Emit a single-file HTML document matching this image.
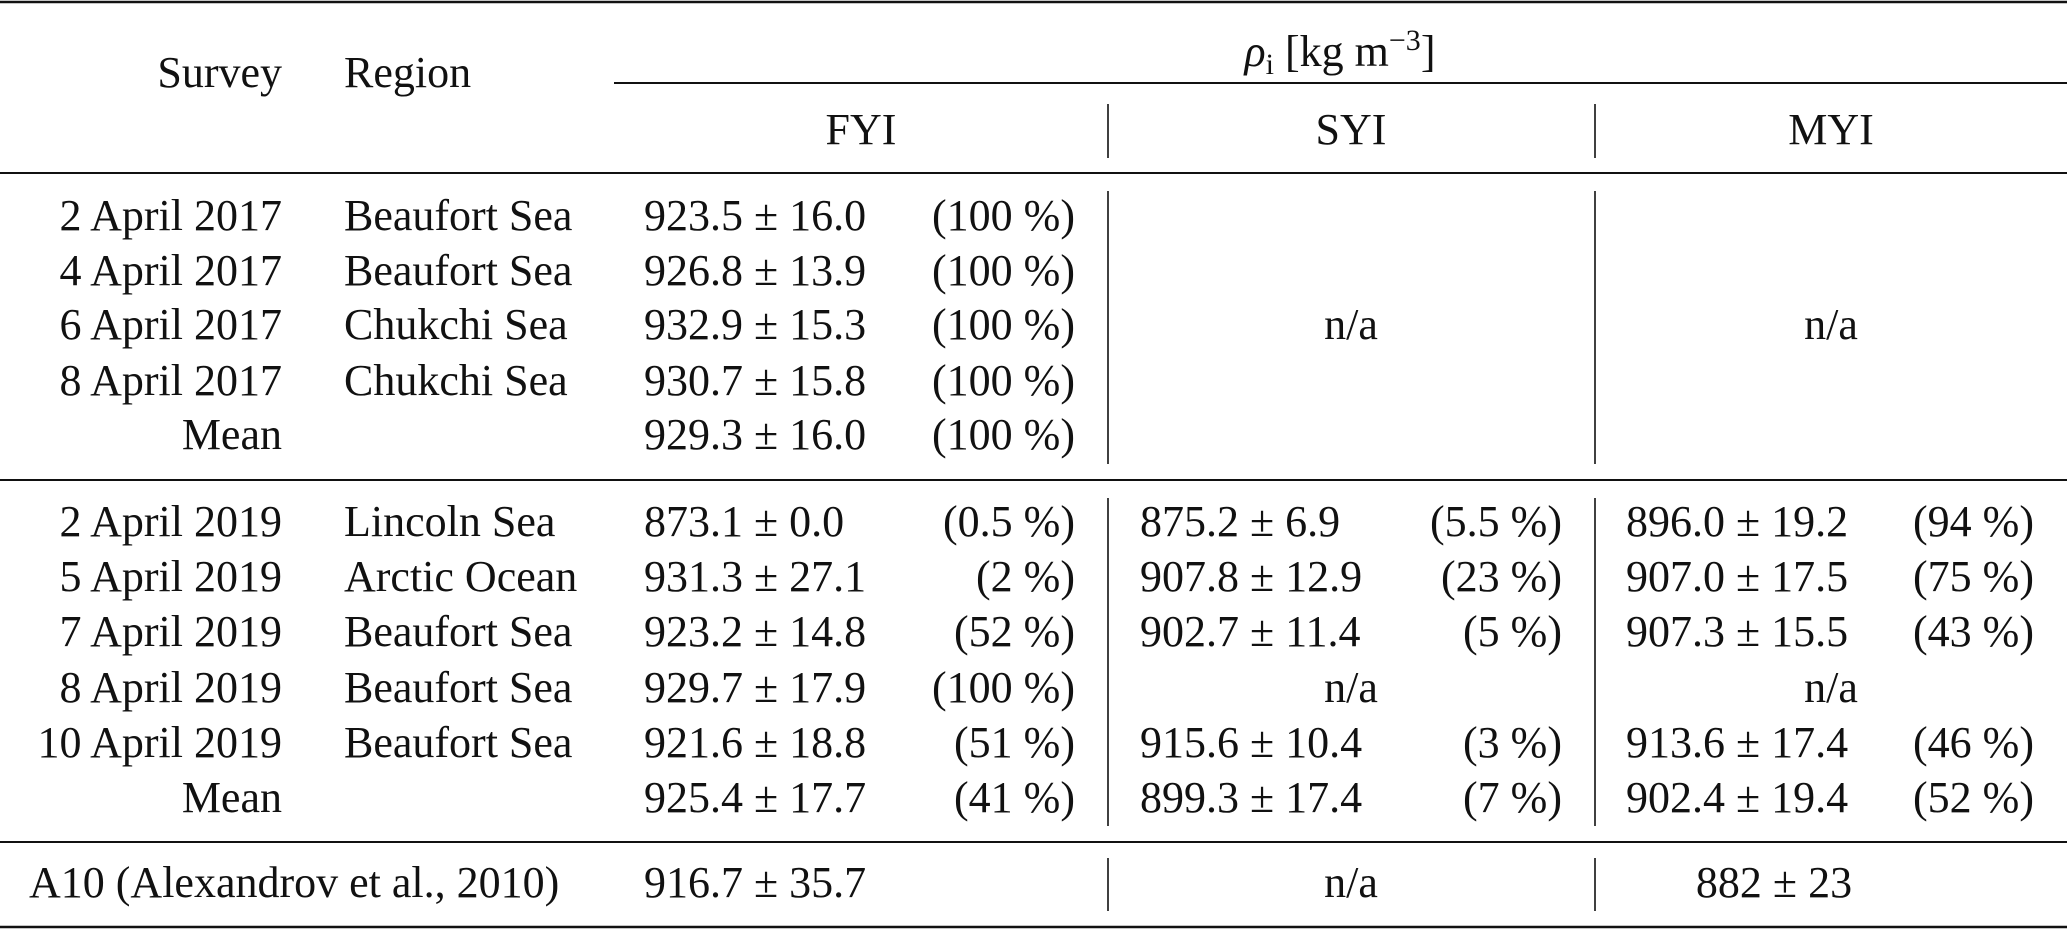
<!DOCTYPE html>
<html><head><meta charset="utf-8"><style>
html,body{margin:0;padding:0;background:#fff;}
svg text{font-family:"Liberation Serif","DejaVu Serif",serif;font-size:44px;fill:#111;}
</style></head><body>
<svg width="2067" height="930" xmlns="http://www.w3.org/2000/svg">
<g stroke="#111">
<line x1="0" y1="2" x2="2067" y2="2" stroke-width="2.5"/>
<line x1="614" y1="83" x2="2067" y2="83" stroke-width="2"/>
<line x1="0" y1="173" x2="2067" y2="173" stroke-width="2"/>
<line x1="0" y1="480" x2="2067" y2="480" stroke-width="2"/>
<line x1="0" y1="842" x2="2067" y2="842" stroke-width="2"/>
<line x1="0" y1="927" x2="2067" y2="927" stroke-width="2.5"/>
<g stroke-width="1.6">
<line x1="1108" y1="104" x2="1108" y2="158"/><line x1="1595" y1="104" x2="1595" y2="158"/>
<line x1="1108" y1="191" x2="1108" y2="464"/><line x1="1595" y1="191" x2="1595" y2="464"/>
<line x1="1108" y1="498" x2="1108" y2="826"/><line x1="1595" y1="498" x2="1595" y2="826"/>
<line x1="1108" y1="858" x2="1108" y2="911"/><line x1="1595" y1="858" x2="1595" y2="911"/>
</g></g>
<text x="282" y="87" text-anchor="end">Survey</text>
<text x="344" y="87">Region</text>
<text x="1340" y="66" text-anchor="middle"><tspan font-style="italic">ρ</tspan><tspan font-size="30" dy="8">i</tspan><tspan dy="-8"> [kg m</tspan><tspan font-size="30" dy="-16">−3</tspan><tspan dy="16">]</tspan></text>
<text x="861" y="144" text-anchor="middle">FYI</text>
<text x="1351" y="144" text-anchor="middle">SYI</text>
<text x="1831" y="144" text-anchor="middle">MYI</text>

<g id="r17">
<text x="282" y="230" text-anchor="end">2 April 2017</text><text x="344" y="230">Beaufort Sea</text><text x="644" y="230">923.5 ± 16.0</text><text x="1075" y="230" text-anchor="end">(100 %)</text>
<text x="282" y="285" text-anchor="end">4 April 2017</text><text x="344" y="285">Beaufort Sea</text><text x="644" y="285">926.8 ± 13.9</text><text x="1075" y="285" text-anchor="end">(100 %)</text>
<text x="282" y="339" text-anchor="end">6 April 2017</text><text x="344" y="339">Chukchi Sea</text><text x="644" y="339">932.9 ± 15.3</text><text x="1075" y="339" text-anchor="end">(100 %)</text>
<text x="282" y="395" text-anchor="end">8 April 2017</text><text x="344" y="395">Chukchi Sea</text><text x="644" y="395">930.7 ± 15.8</text><text x="1075" y="395" text-anchor="end">(100 %)</text>
<text x="282" y="449" text-anchor="end">Mean</text><text x="644" y="449">929.3 ± 16.0</text><text x="1075" y="449" text-anchor="end">(100 %)</text>
<text x="1351" y="339" text-anchor="middle">n/a</text><text x="1831" y="339" text-anchor="middle">n/a</text>
</g>

<text x="282" y="536" text-anchor="end">2 April 2019</text><text x="344" y="536">Lincoln Sea</text><text x="644" y="536">873.1 ± 0.0</text><text x="1075" y="536" text-anchor="end">(0.5 %)</text>
<text x="1140" y="536">875.2 ± 6.9</text><text x="1562" y="536" text-anchor="end">(5.5 %)</text><text x="1626" y="536">896.0 ± 19.2</text><text x="2034" y="536" text-anchor="end">(94 %)</text>

<text x="282" y="591" text-anchor="end">5 April 2019</text><text x="344" y="591">Arctic Ocean</text><text x="644" y="591">931.3 ± 27.1</text><text x="1075" y="591" text-anchor="end">(2 %)</text>
<text x="1140" y="591">907.8 ± 12.9</text><text x="1562" y="591" text-anchor="end">(23 %)</text><text x="1626" y="591">907.0 ± 17.5</text><text x="2034" y="591" text-anchor="end">(75 %)</text>

<text x="282" y="646" text-anchor="end">7 April 2019</text><text x="344" y="646">Beaufort Sea</text><text x="644" y="646">923.2 ± 14.8</text><text x="1075" y="646" text-anchor="end">(52 %)</text>
<text x="1140" y="646">902.7 ± 11.4</text><text x="1562" y="646" text-anchor="end">(5 %)</text><text x="1626" y="646">907.3 ± 15.5</text><text x="2034" y="646" text-anchor="end">(43 %)</text>

<text x="282" y="702" text-anchor="end">8 April 2019</text><text x="344" y="702">Beaufort Sea</text><text x="644" y="702">929.7 ± 17.9</text><text x="1075" y="702" text-anchor="end">(100 %)</text>
<text x="1351" y="702" text-anchor="middle">n/a</text><text x="1831" y="702" text-anchor="middle">n/a</text>

<text x="282" y="757" text-anchor="end">10 April 2019</text><text x="344" y="757">Beaufort Sea</text><text x="644" y="757">921.6 ± 18.8</text><text x="1075" y="757" text-anchor="end">(51 %)</text>
<text x="1140" y="757">915.6 ± 10.4</text><text x="1562" y="757" text-anchor="end">(3 %)</text><text x="1626" y="757">913.6 ± 17.4</text><text x="2034" y="757" text-anchor="end">(46 %)</text>

<text x="282" y="812" text-anchor="end">Mean</text><text x="644" y="812">925.4 ± 17.7</text><text x="1075" y="812" text-anchor="end">(41 %)</text>
<text x="1140" y="812">899.3 ± 17.4</text><text x="1562" y="812" text-anchor="end">(7 %)</text><text x="1626" y="812">902.4 ± 19.4</text><text x="2034" y="812" text-anchor="end">(52 %)</text>

<text x="29" y="897">A10 (Alexandrov et al., 2010)</text><text x="644" y="897">916.7 ± 35.7</text>
<text x="1351" y="897" text-anchor="middle">n/a</text><text x="1774" y="897" text-anchor="middle">882 ± 23</text>
</svg>
</body></html>
